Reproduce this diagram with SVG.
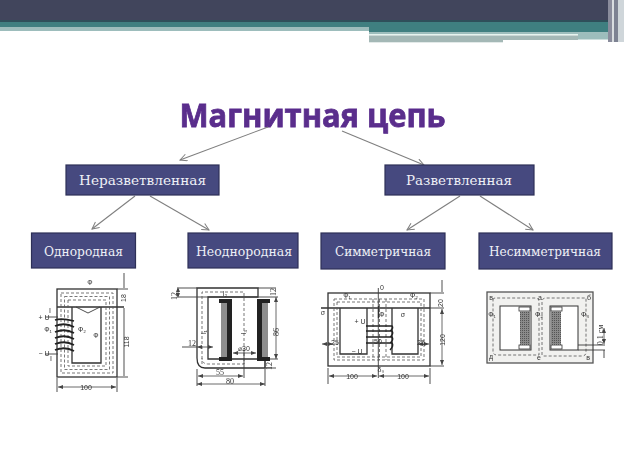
<svg xmlns="http://www.w3.org/2000/svg" width="624" height="468" viewBox="0 0 624 468">
<style>
.box{fill:#46497f;stroke:#2d3057;stroke-width:1.2}
.lbl{font-family:"DejaVu Serif",serif;font-size:12px;fill:#eef0f6;text-anchor:middle}
.ln{fill:none;stroke:#3a3a3a;stroke-width:.9}
.th{fill:none;stroke:#333;stroke-width:1.3}
.da{fill:none;stroke:#555;stroke-width:.8;stroke-dasharray:3 2}
.t{font-family:"Liberation Sans",sans-serif;font-size:7px;fill:#333;text-anchor:middle}
.s{font-family:"Liberation Serif",serif;font-size:8px;fill:#333;text-anchor:middle}
.dim{fill:none;stroke:#444;stroke-width:.8;marker-start:url(#d1);marker-end:url(#d2)}
</style>
<defs>
<marker id="a" markerWidth="10" markerHeight="10" refX="8" refY="4" orient="auto" markerUnits="userSpaceOnUse"><path d="M1 .5 8 4 1 7.5" fill="none" stroke="#7f7f7f" stroke-width="1"/></marker>
<marker id="d2" markerWidth="6" markerHeight="4" refX="5" refY="2" orient="auto" markerUnits="userSpaceOnUse"><path d="M0 0 5 2 0 4z" fill="#444"/></marker>
<marker id="d1" markerWidth="6" markerHeight="4" refX="0" refY="2" orient="auto" markerUnits="userSpaceOnUse"><path d="M5 0 0 2 5 4z" fill="#444"/></marker>
<filter id="b" x="-5%" y="-5%" width="110%" height="110%"><feGaussianBlur stdDeviation=".35"/></filter>
<filter id="sh" x="-5%" y="-20%" width="110%" height="140%"><feGaussianBlur stdDeviation=".4"/></filter>
<pattern id="h" width="2" height="2" patternUnits="userSpaceOnUse"><rect width="2" height="2" fill="#8a8a8a"/><rect width="1" height="1" fill="#555"/></pattern>
</defs>
<rect width="624" height="468" fill="#fff"/>
<g id="header">
<rect width="624" height="20" fill="#41455c"/>
<rect y="20" width="608" height="2" fill="#2f4f5a"/>
<rect y="22" width="369" height="5" fill="#3f7f80"/>
<rect y="27" width="369" height="4" fill="#9dbdbc"/>
<rect x="369" y="22" width="239" height="10.500" fill="#3f7f80"/>
<rect x="369" y="32.500" width="209" height="1.500" fill="#9dbdbc"/>
<rect x="369" y="34" width="209" height="1.500" fill="#e6f4ef"/>
<rect x="369" y="35.500" width="209" height="4.500" fill="#a4b8b6"/>
<rect x="369" y="40" width="134" height="2.300" fill="#a4b8b6"/>
<rect x="578" y="32.500" width="30" height="7" fill="#9dbdbc"/>
<rect x="608" width="4" height="42" fill="#8a8c9c"/>
<rect x="612" width="2" height="42" fill="#d9dde0"/>
<rect x="614" width="4" height="42" fill="#7d8292"/>
<rect x="618" width="6" height="42" fill="#cfd6da"/>
</g>
<g id="title">
<text x="312.500" y="126.500" text-anchor="middle" font-family="'Open Sans',sans-serif" font-weight="700" font-size="33px" fill="#5a2d8c" stroke="#5a2d8c" stroke-width=".8" textLength="266" lengthAdjust="spacingAndGlyphs" filter="url(#sh)">Магнитная цепь</text>
</g>
<g id="connectors" fill="none" stroke="#7f7f7f" stroke-width="1.1" marker-end="url(#a)">
<path d="M268 127 180 160" marker-end="url(#a)"/>
<path d="M342 131 424 165" marker-end="url(#a)"/>
<path d="M135 196 92 229" marker-end="url(#a)"/>
<path d="M150 196 209 230" marker-end="url(#a)"/>
<path d="M460 196 407 230" marker-end="url(#a)"/>
<path d="M480 196 533 230" marker-end="url(#a)"/>
</g>
<g id="n1"><rect class="box" x="66" y="165" width="153" height="30"/><text class="lbl" x="142.500" y="185" textLength="127" lengthAdjust="spacingAndGlyphs">Неразветвленная</text></g>
<g id="n2"><rect class="box" x="385" y="165" width="149" height="30"/><text class="lbl" x="459" y="185" textLength="106" lengthAdjust="spacingAndGlyphs">Разветвленная</text></g>
<g id="n3"><rect class="box" x="31.500" y="233" width="104" height="35"/><text class="lbl" x="83.500" y="256" textLength="79" lengthAdjust="spacingAndGlyphs">Однородная</text></g>
<g id="n4"><rect class="box" x="188" y="233" width="110" height="35"/><text class="lbl" x="244" y="256" textLength="96" lengthAdjust="spacingAndGlyphs">Неоднородная</text></g>
<g id="n5"><rect class="box" x="321" y="233" width="124" height="36"/><text class="lbl" x="383" y="256" textLength="96" lengthAdjust="spacingAndGlyphs">Симметричная</text></g>
<g id="n6"><rect class="box" x="479" y="233" width="133" height="36"/><text class="lbl" x="545" y="256" textLength="112" lengthAdjust="spacingAndGlyphs">Несимметричная</text></g>

<g id="fig1" filter="url(#b)">
<rect class="th" x="57" y="289" width="60" height="88"/>
<path class="th" d="M57 307H124M72 307V363H101V307"/>
<rect class="da" x="61" y="293" width="52" height="80"/>
<rect class="da" x="64.500" y="296.500" width="45" height="73"/>
<rect class="da" x="68" y="300" width="38" height="66"/>
<path class="ln" d="M76 307 88 313 100 307"/>
<path d="M55 320Q62 318 74 321M55 326Q65 322 74 327M55 332Q65 328 74 333M55 338Q65 334 74 339M55 344Q65 340 74 345M55 350Q65 346 74 351" fill="none" stroke="#222" stroke-width="1.800"/>
<path class="ln" d="M124 273V288M124 308V376M57 378V392M117 378V392"/>
<path class="dim" d="M58 387H116"/>
<path class="ln" d="M117 289H128M117 377H128"/>
<path class="ln" d="M45 317H58M45 354H58"/>
<text class="t" x="86" y="390">100</text>
<text class="t" transform="translate(129 342) rotate(-90)">118</text>
<text class="t" transform="translate(126 298) rotate(-90)">18</text>
<text class="t" x="44" y="320">+ U</text>
<text class="t" x="44" y="356">− U</text>
<text class="t" x="50" y="313">I</text>
<text class="t" x="51" y="361">I</text>
<text class="t" x="48" y="332">Ф₁</text>
<text class="t" x="82" y="332">Ф₂</text>
<text class="t" x="96" y="338">Ф</text>
<text class="t" x="90" y="285">Ф</text>
</g>

<g id="fig2" filter="url(#b)">
<path class="th" d="M197 288H258V297H208V359H265V368H205Q197 368 197 358Z"/>
<path class="ln" d="M197 297H278M258 288H276M265 359H278M265 368H276M265 359V368"/>
<rect x="219" y="299" width="13" height="4" fill="#222"/><rect x="219" y="357" width="13" height="4" fill="#222"/>
<rect x="221" y="303" width="6" height="54" fill="#8e8e8e"/><rect x="227" y="303" width="5" height="54" fill="#222"/>
<rect x="257" y="299" width="13" height="4" fill="#222"/><rect x="257" y="357" width="13" height="4" fill="#222"/>
<rect x="257" y="303" width="5" height="54" fill="#222"/><rect x="262" y="303" width="6" height="54" fill="#8e8e8e"/>
<path class="da" d="M202 364V292H244V364H208Q202 364 202 358"/>
<path class="dim" d="M198 376H243"/>
<path class="dim" d="M197 384H265"/>
<path class="dim" d="M276 297V359"/>
<path class="dim" d="M233 353H256"/>
<path class="dim" d="M178 287V298"/>
<path class="ln" d="M179 288H197M179 297H197M197 369V386M265 369V386M244 350V378M182 347H197"/>
<path class="dim" d="M197 347H213"/>
<text class="s" x="220" y="375">55</text>
<text class="s" x="230" y="384">80</text>
<text class="s" x="192" y="346">12</text>
<text class="s" transform="translate(177 296) rotate(-90)">12</text>
<text class="s" transform="translate(276 292) rotate(-90)" font-size="7">12</text>
<text class="s" transform="translate(272 366) rotate(-90)" font-size="7">12</text>
<text class="s" transform="translate(279 332) rotate(-90)">86</text>
<text class="t" x="244" y="351">⌀30</text>
<text class="t" x="225" y="296">l₂</text>
<text class="t" transform="translate(206 332) rotate(-90)">l₁</text>
<text class="t" transform="translate(246 332) rotate(-90)">l₃</text>
</g>

<g id="fig3" filter="url(#b)">
<rect class="th" x="328" y="293" width="102" height="73"/>
<path class="th" d="M321 308H430M340 308V354H367V308M392 308V354H418V308"/>
<rect class="da" x="334" y="299" width="90" height="61"/>
<path class="da" d="M373 299V360M379.500 299V360M386 299V360"/>
<path class="da" d="M337 302H421V357H337Z"/>
<path d="M366 326H392Q394 328 390 331H366M366 331H392Q394 334 390 337H366M366 337H392Q394 340 390 343H366M366 343H392Q394 346 390 350" fill="none" stroke="#222" stroke-width="1.500"/>
<path class="ln" d="M378.300 288V378M442 280V292M430 293H444M430 308H444M430 366H444M328 368V384M430 368V384"/>
<path class="dim" d="M442 309V365"/>
<path class="dim" d="M329 376H377"/>
<path class="dim" d="M379 376H429"/>
<path class="dim" d="M322 344H333"/>
<path class="dim" d="M418 344H429"/>
<path class="th" d="M378.500 318V306" stroke-width="2"/>
<text class="t" x="382" y="290">0</text>
<text class="t" x="352" y="379">100</text>
<text class="t" x="403" y="379">100</text>
<text class="t" transform="translate(445 340) rotate(-90)">120</text>
<text class="t" transform="translate(443 303) rotate(-90)">20</text>
<text class="t" x="335" y="345">25</text>
<text class="t" x="421" y="345">25</text>
<text class="t" x="378" y="344">50</text>
<text class="t" x="360" y="324">+ U</text>
<text class="t" x="357" y="354">− U</text>
<text class="t" x="347" y="298">Ф₁</text>
<text class="t" x="414" y="298">Ф₂</text>
<text class="t" x="382" y="317">Ф</text>
<text class="t" x="381" y="372">δ₀</text>
<text class="t" x="323" y="315">σ</text>
<text class="t" x="403" y="317">σ</text>
</g>

<g id="fig4" filter="url(#b)">
<rect x="487" y="292" width="106" height="71" fill="#f1f1ef" stroke="#555" stroke-width="1.300"/>
<rect x="500" y="306" width="31" height="44" fill="#fff" stroke="#333" stroke-width="1"/>
<rect x="550" y="306" width="28" height="44" fill="#fff" stroke="#333" stroke-width="1"/>
<rect x="519" y="307" width="11" height="4" fill="#fff" stroke="#333" stroke-width=".8"/>
<rect x="519" y="345" width="11" height="4" fill="#fff" stroke="#333" stroke-width=".8"/>
<rect x="520" y="311" width="10" height="34" fill="url(#h)"/>
<rect x="551" y="307" width="11" height="4" fill="#fff" stroke="#333" stroke-width=".8"/>
<rect x="551" y="345" width="11" height="4" fill="#fff" stroke="#333" stroke-width=".8"/>
<rect x="551" y="311" width="10" height="34" fill="url(#h)"/>
<path class="da" d="M493 300Q493 298 495 298H535Q539 298 539 302V355H497Q493 355 493 351ZM542 355V302Q542 298 546 298H586V352Q586 356 582 356H542"/>
<path class="ln" d="M578 345H605M578 350H605"/>
<path class="dim" d="M604 328V344"/>
<path class="ln" d="M604 350V358"/>
<text class="s" transform="translate(603 335) rotate(-90)">0,1 см</text>
<text class="t" x="492" y="317">Ф₁</text>
<text class="t" x="539" y="317">Ф₂</text>
<text class="t" x="585" y="317">Ф₃</text>
<text class="t" x="491" y="300">в</text>
<text class="t" x="540" y="300">а</text>
<text class="t" x="589" y="300">б</text>
<text class="t" x="491" y="359">д</text>
<text class="t" x="539" y="360">е</text>
<text class="t" x="588" y="360">в</text>
</g>
</svg>
